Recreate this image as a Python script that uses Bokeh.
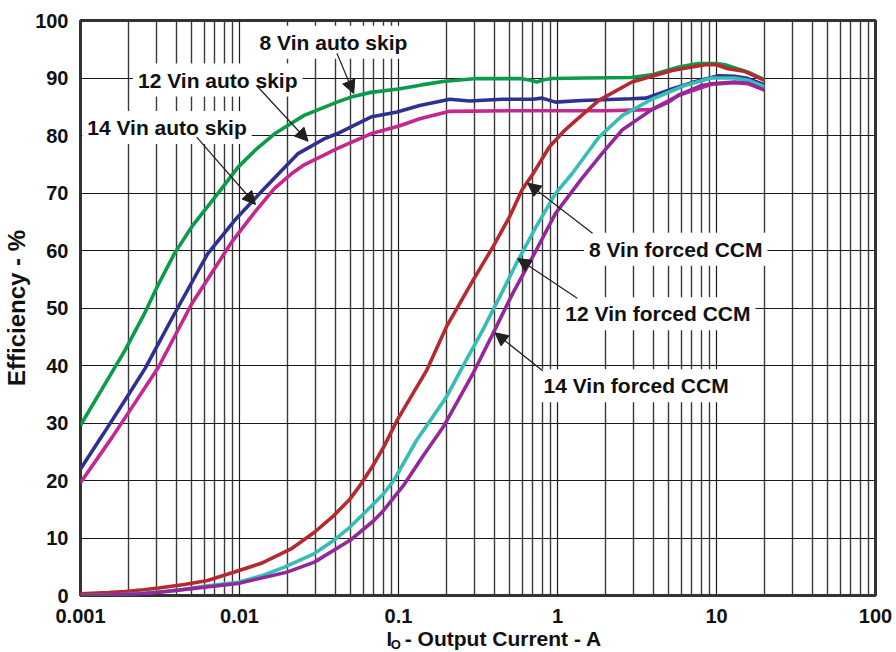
from bokeh.plotting import figure
from bokeh.layouts import column
from bokeh.models import (Label, Arrow, NormalHead, FixedTicker,
                          CustomJSTickFormatter, Range1d)
from bokeh.embed import file_html
from bokeh.resources import INLINE

# ---------------- data (Output current in A, efficiency in %) ----------------
i_8_skip = [0.001, 0.0015, 0.0019, 0.0025, 0.003, 0.0039, 0.005, 0.0073, 0.0098,
            0.0125, 0.0166, 0.0255, 0.034, 0.041, 0.052, 0.067, 0.10, 0.14, 0.19,
            0.31, 0.58, 0.68, 0.74, 0.82, 0.93, 1.5, 2.9, 4.0, 5.8, 7.7, 10,
            11.3, 13.5, 15.8, 20]
e_8_skip = [29.6, 37.8, 42.6, 48.8, 53.4, 59.5, 64.1, 69.9, 74.5,
            77.4, 80.3, 83.5, 84.9, 85.8, 86.8, 87.5, 88.1, 88.8, 89.4,
            89.9, 89.9, 89.6, 89.3, 89.7, 89.9, 90.0, 90.1, 90.6, 91.9, 92.5, 92.5,
            92.3, 91.6, 91.0, 89.7]

i_12_skip = [0.001, 0.0014, 0.0019, 0.00255, 0.0039, 0.0063, 0.0093, 0.0137, 0.0232,
             0.034, 0.041, 0.067, 0.098, 0.136, 0.21, 0.28, 0.45, 0.70, 0.80, 0.97,
             1.42, 2.9, 3.6, 5.0, 7.0, 10.3, 13, 15.8, 20]
e_12_skip = [22.0, 28.2, 33.9, 39.5, 49.0, 59.4, 65.2, 70.2, 76.8,
             79.4, 80.3, 83.2, 84.1, 85.2, 86.3, 86.0, 86.3, 86.3, 86.5, 85.8,
             86.1, 86.4, 86.5, 87.9, 89.2, 90.4, 90.3, 89.9, 88.8]

i_14_skip = [0.001, 0.00158, 0.0022, 0.00309, 0.005, 0.0089, 0.0124, 0.0166, 0.0211,
             0.0255, 0.034, 0.041, 0.067, 0.102, 0.136, 0.21, 0.5, 1.0, 2.0, 3.9,
             5.8, 9.3, 13, 15.8, 20]
e_14_skip = [19.6, 27.5, 33.5, 39.7, 50.7, 61.4, 66.6, 70.8, 73.3,
             74.9, 76.6, 77.7, 80.3, 81.7, 82.9, 84.2, 84.3, 84.3, 84.3, 84.5,
             87.0, 88.9, 89.2, 89.0, 88.0]

i_8_ccm = [0.001, 0.0015, 0.0019, 0.0025, 0.0031, 0.0045, 0.0063, 0.0093, 0.0137,
           0.0211, 0.0296, 0.0392, 0.0496, 0.0575, 0.0698, 0.0806, 0.0977, 0.15, 0.2,
           0.294, 0.392, 0.498, 0.6, 0.7, 0.888, 1.11, 1.3, 1.82, 2.94, 5.25, 8.5,
           10, 11.8, 14.9, 20]
e_8_ccm = [0.3, 0.5, 0.7, 1.0, 1.3, 1.9, 2.6, 4.1, 5.6,
           8.1, 11.0, 13.9, 16.8, 19.2, 22.8, 25.8, 30.4, 39.1, 46.7,
           54.8, 60.6, 65.8, 70.6, 73.3, 78.0, 80.9, 82.6, 86.1, 89.3, 91.3, 92.3,
           92.3, 91.6, 91.2, 89.6]

i_12_ccm = [0.001, 0.0015, 0.0022, 0.0031, 0.0045, 0.0063, 0.0098, 0.014, 0.019,
            0.0296, 0.0392, 0.0496, 0.0666, 0.0806, 0.0933, 0.13, 0.2, 0.266, 0.338,
            0.432, 0.55, 0.733, 0.97, 1.23, 1.82, 2.56, 3.92, 6.3, 9.3, 13, 15.8, 20]
e_12_ccm = [0.0, 0.1, 0.3, 0.6, 1.1, 1.7, 2.3, 3.5, 4.9,
            7.3, 9.6, 11.9, 15.4, 17.7, 20.0, 27.0, 34.5, 40.9, 46.1,
            51.9, 57.7, 64.1, 69.9, 73.3, 79.7, 83.5, 86.3, 88.7, 90.0, 90.0, 89.6, 88.5]

i_14_ccm = [0.001, 0.0015, 0.00243, 0.0035, 0.005, 0.0098, 0.0201, 0.0296, 0.0496,
            0.0698, 0.0806, 0.0977, 0.108, 0.143, 0.191, 0.294, 0.392, 0.522, 0.733,
            0.97, 1.42, 1.91, 2.56, 3.92, 5.0, 5.76, 8.06, 9.3, 13, 15.8, 20]
e_14_ccm = [0.0, 0.1, 0.3, 0.7, 1.2, 2.1, 4.1, 5.8, 9.6,
            13.0, 14.8, 17.7, 19.2, 24.3, 29.3, 38.6, 45.5, 52.5, 60.0,
            66.4, 72.5, 76.9, 81.0, 84.5, 85.8, 87.0, 88.7, 89.0, 89.3, 89.1, 87.9]

x_ticks = [0.001, 0.01, 0.1, 1, 10, 100]
y_ticks = [0, 10, 20, 30, 40, 50, 60, 70, 80, 90, 100]

# annotation texts: (text, label x, label y, arrow start x, y, arrow end x, y)
notes = [
    ("8 Vin auto skip", 0.039, 96.2, 0.041, 94.3, 0.0523, 87.3),
    ("12 Vin auto skip", 0.0073, 89.65, 0.0128, 88.7, 0.027, 79.0),
    ("14 Vin auto skip", 0.0035, 81.4, 0.00538, 79.7, 0.0126, 68.0),
    ("8 Vin forced CCM", 5.54, 60.2, 1.66, 63.0, 0.649, 71.7),
    ("12 Vin forced CCM", 4.28, 49.0, 1.33, 51.7, 0.562, 58.6),
    ("14 Vin forced CCM", 3.12, 36.5, 0.806, 39.1, 0.404, 45.7),
]

FONT = "Liberation Sans"
INK = "#111111"

p = figure(width=896, height=626, x_axis_type="log",
           x_range=Range1d(0.001, 100), y_range=Range1d(0, 100),
           output_backend="svg", toolbar_location=None,
           min_border_left=75, min_border_right=21,
           min_border_top=20, min_border_bottom=31,
           background_fill_color="white", border_fill_color="white")

# axes
minor = [m * d for d in [0.001, 0.01, 0.1, 1, 10] for m in range(2, 10)]
p.xaxis.ticker = FixedTicker(ticks=x_ticks, minor_ticks=minor)
p.yaxis.ticker = FixedTicker(ticks=y_ticks)
p.xaxis.formatter = CustomJSTickFormatter(code="return tick.toString();")
for ax in (p.xaxis, p.yaxis):
    ax.axis_line_color = None
    ax.major_tick_line_color = None
    ax.minor_tick_line_color = None
    ax.major_label_text_font = FONT
    ax.major_label_text_font_style = "bold"
    ax.major_label_text_font_size = "20px"
    ax.major_label_text_color = INK
p.xaxis.major_label_standoff = 7
p.yaxis.major_label_standoff = 6
p.yaxis.axis_label = "Efficiency - %"
p.yaxis.axis_label_text_font = FONT
p.yaxis.axis_label_text_font_style = "bold"
p.yaxis.axis_label_text_font_size = "24px"
p.yaxis.axis_label_text_color = INK
p.yaxis.axis_label_standoff = 2

# grid
p.xgrid.grid_line_color = "#1a1a1a"
p.xgrid.grid_line_width = 1.2
p.xgrid.minor_grid_line_color = "#3a3a3a"
p.xgrid.minor_grid_line_width = 1.4
p.ygrid.grid_line_color = "#1a1a1a"
p.ygrid.grid_line_width = 1.2
p.outline_line_color = "#333333"
p.outline_line_width = 3

# curves
W = 3.6
p.line(i_8_skip, e_8_skip, line_color="#0a9b4b", line_width=W)
p.line(i_12_skip, e_12_skip, line_color="#2e3192", line_width=W)
p.line(i_14_skip, e_14_skip, line_color="#c4278f", line_width=W)
p.line(i_8_ccm, e_8_ccm, line_color="#b5292f", line_width=W)
p.line(i_12_ccm, e_12_ccm, line_color="#35bdb6", line_width=W)
p.line(i_14_ccm, e_14_ccm, line_color="#93289b", line_width=W)

# annotations
for txt, lx, ly, ax0, ay0, ax1, ay1 in notes:
    p.add_layout(Label(x=lx, y=ly, text=txt, text_align="center",
                       text_baseline="middle", text_font=FONT,
                       text_font_style="bold", text_font_size="21px",
                       text_color=INK, background_fill_color="white",
                       padding=5))
    p.add_layout(Arrow(x_start=ax0, y_start=ay0, x_end=ax1, y_end=ay1,
                       line_color="#231f20", line_width=1.2,
                       end=NormalHead(size=13, fill_color="#231f20",
                                      line_color="#231f20")))

# x axis title strip (with subscript), sharing the current scale
t = figure(width=896, height=26, x_axis_type="log", x_range=p.x_range,
           y_range=Range1d(0, 26), x_axis_location=None, y_axis_location=None,
           output_backend="svg", toolbar_location=None,
           min_border_left=75, min_border_right=21,
           min_border_top=0, min_border_bottom=0, outline_line_color=None,
           background_fill_color="white", border_fill_color="white")
t.grid.visible = False
t.add_layout(Label(x=0.0841, y=14, text="I", text_align="left",
                   text_baseline="alphabetic", text_font=FONT,
                   text_font_style="bold", text_font_size="20px",
                   text_color=INK))
t.add_layout(Label(x=0.0895, y=8, text="O", text_align="left",
                   text_baseline="alphabetic", text_font=FONT,
                   text_font_style="bold", text_font_size="13px",
                   text_color=INK))
t.add_layout(Label(x=0.1095, y=14, text="- Output Current - A",
                   text_align="left", text_baseline="alphabetic",
                   text_font=FONT, text_font_style="bold",
                   text_font_size="21px", text_color=INK))

layout = column(p, t, spacing=0)
open("out.html", "w").write(file_html(layout, INLINE))
